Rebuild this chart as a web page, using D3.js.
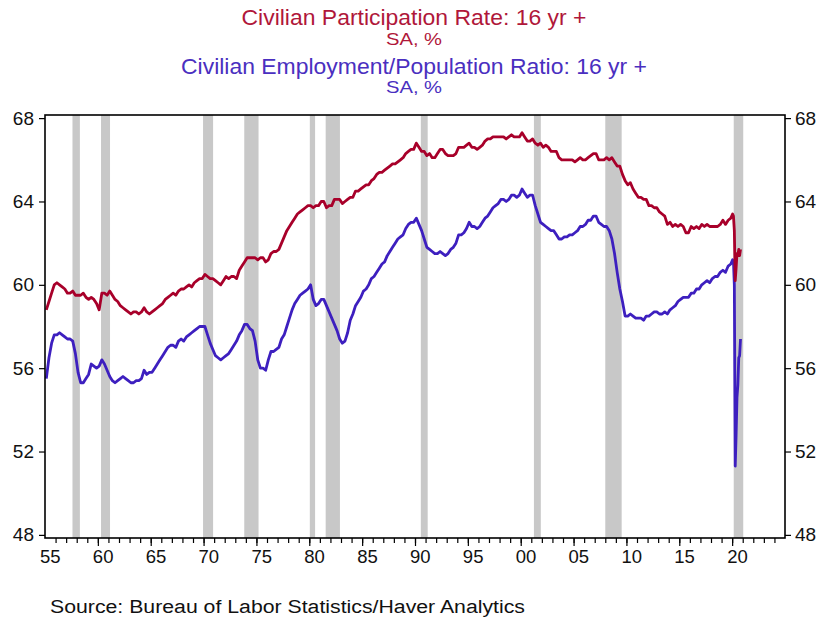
<!DOCTYPE html>
<html>
<head>
<meta charset="utf-8">
<script src="https://cdn.jsdelivr.net/npm/d3@7"></script>
<style>
  body { margin: 0; background: #fff; }
  svg text { font-family: Arial, "Liberation Sans", sans-serif; }
</style>
</head>
<body>
<svg id="chart" width="825" height="622"></svg>
<script>
// 數據：季度值 1955Q1–2019Q4，外加 2020 年月度值
const partQ = [
  58.8, 59.2, 59.6, 60.0,  60.1, 60.0, 59.9, 59.8,  59.6, 59.6, 59.7, 59.5,  59.5, 59.5, 59.6, 59.4,
  59.3, 59.4, 59.3, 59.1,  58.8, 59.6, 59.6, 59.5,  59.7, 59.5, 59.3, 59.2,  59.0, 58.9, 58.8, 58.7,
  58.6, 58.7, 58.7, 58.6,  58.7, 58.9, 58.7, 58.6,  58.7, 58.8, 58.9, 59.0,  59.1, 59.3, 59.4, 59.5,
  59.6, 59.5, 59.7, 59.8,  59.8, 59.9, 60.0, 59.9,  60.1, 60.2, 60.3, 60.3,  60.5, 60.4, 60.3, 60.3,
  60.2, 60.1, 60.0, 60.2,  60.4, 60.3, 60.4, 60.4,  60.3, 60.7, 60.9, 61.1,  61.3, 61.3, 61.3, 61.3,
  61.2, 61.3, 61.3, 61.1,  61.2, 61.5, 61.6, 61.6,  61.7, 62.0, 62.3, 62.6,  62.8, 63.0, 63.2, 63.4,
  63.5, 63.6, 63.7, 63.8,  63.8, 63.7, 63.8, 63.8,  64.0, 64.0, 63.7, 63.8,  63.8, 64.1, 64.1, 64.1,
  63.9, 64.0, 64.1, 64.2,  64.2, 64.5, 64.5, 64.6,  64.7, 64.8, 64.8, 65.0,  65.1, 65.3, 65.4, 65.4,
  65.5, 65.6, 65.7, 65.8,  65.8, 65.9, 66.0, 66.1,  66.3, 66.4, 66.5, 66.5,  66.8, 66.6, 66.4, 66.4,
  66.2, 66.3, 66.1, 66.1,  66.3, 66.5, 66.5, 66.3,  66.2, 66.2, 66.2, 66.3,  66.6, 66.6, 66.6, 66.7,
  66.8, 66.6, 66.6, 66.5,  66.6, 66.7, 66.9, 67.0,  67.0, 67.1, 67.1, 67.1,  67.1, 67.1, 67.0, 67.1,
  67.2, 67.1, 67.1, 67.1,  67.3, 67.1, 66.9, 66.9,  67.0, 66.8, 66.7, 66.8,  66.6, 66.7, 66.6, 66.4,
  66.4, 66.4, 66.1, 66.0,  66.0, 66.0, 66.0, 66.0,  65.9, 66.0, 66.1, 66.0,  66.0, 66.1, 66.2, 66.3,
  66.3, 66.0, 66.0, 66.0,  66.1, 66.0, 66.1, 65.9,  65.7, 65.7, 65.3, 65.0,  64.8, 64.9, 64.6, 64.4,
  64.2, 64.2, 64.1, 64.1,  63.8, 63.8, 63.7, 63.7,  63.5, 63.4, 63.3, 62.9,  63.0, 62.8, 62.9, 62.8,
  62.9, 62.8, 62.5, 62.5,  62.8, 62.7, 62.8, 62.7,  62.9, 62.8, 62.9, 62.8,  62.8, 62.8, 62.8, 62.9,
  63.1, 62.9, 63.1, 63.2
];
const empQ = [
  55.5, 56.5, 57.2, 57.6,  57.6, 57.7, 57.6, 57.5,  57.4, 57.4, 57.3, 56.7,  55.8, 55.3, 55.3, 55.5,
  55.7, 56.2, 56.1, 56.0,  56.1, 56.4, 56.2, 55.9,  55.6, 55.4, 55.3, 55.4,  55.5, 55.6, 55.5, 55.4,
  55.3, 55.3, 55.4, 55.4,  55.5, 55.9, 55.7, 55.8,  55.8, 56.0, 56.2, 56.4,  56.6, 56.8, 57.0, 57.1,
  57.1, 57.0, 57.3, 57.4,  57.3, 57.5, 57.6, 57.7,  57.8, 57.9, 58.0, 58.0,  58.0, 57.6, 57.2, 56.9,
  56.6, 56.5, 56.4, 56.5,  56.6, 56.7, 56.9, 57.1,  57.3, 57.6, 57.8, 58.1,  58.1, 57.9, 57.8, 57.3,
  56.4, 56.0, 56.0, 55.9,  56.4, 56.8, 56.8, 56.9,  57.0, 57.4, 57.6, 58.0,  58.4, 58.8, 59.1, 59.3,
  59.5, 59.6, 59.7, 59.8,  60.0, 59.3, 59.0, 59.1,  59.3, 59.3, 59.0, 58.7,  58.4, 58.1, 57.8, 57.4,
  57.2, 57.3, 57.7, 58.3,  58.6, 59.0, 59.2, 59.4,  59.7, 59.8, 60.0, 60.3,  60.4, 60.6, 60.8, 61.0,
  61.1, 61.4, 61.6, 61.8,  62.0, 62.2, 62.3, 62.4,  62.7, 62.9, 63.0, 63.0,  63.2, 62.9, 62.6, 62.2,
  61.8, 61.7, 61.6, 61.5,  61.5, 61.6, 61.5, 61.4,  61.5, 61.7, 61.8, 62.0,  62.4, 62.4, 62.5, 62.7,
  63.0, 62.8, 62.8, 62.7,  62.8, 63.0, 63.2, 63.3,  63.5, 63.7, 63.8, 63.9,  64.1, 64.1, 64.0, 64.1,
  64.3, 64.3, 64.2, 64.3,  64.6, 64.4, 64.2, 64.3,  64.3, 63.8, 63.4, 63.0,  62.9, 62.8, 62.7, 62.6,
  62.6, 62.4, 62.2, 62.2,  62.3, 62.3, 62.4, 62.4,  62.5, 62.6, 62.8, 62.8,  62.9, 63.1, 63.1, 63.3,
  63.3, 63.0, 62.9, 62.8,  62.8, 62.6, 62.2, 61.5,  60.6, 59.8, 59.2, 58.5,  58.5, 58.6, 58.5, 58.4,
  58.4, 58.4, 58.3, 58.5,  58.5, 58.6, 58.7, 58.7,  58.6, 58.6, 58.7, 58.6,  58.8, 58.9, 59.0, 59.2,
  59.3, 59.4, 59.4, 59.4,  59.6, 59.6, 59.8, 59.8,  60.0, 60.1, 60.2, 60.1,  60.3, 60.4, 60.4, 60.6,
  60.7, 60.6, 60.9, 61.0
];
const part2020 = [63.4, 63.3, 62.6, 60.2, 60.8, 61.5, 61.4, 61.7, 61.4, 61.7];
const emp2020 = [61.2, 61.1, 60.0, 51.3, 52.8, 54.6, 55.2, 56.5, 56.6, 57.4];

// 衰退期（年份小數）
const recessions = [
  [1957.6, 1958.3], [1960.3, 1961.15], [1969.95, 1970.9], [1973.85, 1975.2],
  [1980.05, 1980.55], [1981.55, 1982.9], [1990.55, 1991.2], [2001.25, 2001.9],
  [2008.0, 2009.55], [2020.15, 2021.05]
];

const yTicks = [48, 52, 56, 60, 64, 68];
const xLabelYears = d3.range(1955, 2021, 5);

// 標題：文字、基線、字號、目標寬度
const titles = [
  { text: 'Civilian Participation Rate: 16 yr +', y: 25, size: 21.5, width: 345, color: '#b0173a' },
  { text: 'SA, %', y: 45, size: 17, width: 56, color: '#b0173a' },
  { text: 'Civilian Employment/Population Ratio: 16 yr +', y: 74, size: 21.5, width: 466, color: '#4a2fc0' },
  { text: 'SA, %', y: 93, size: 17, width: 56, color: '#4a2fc0' }
];

const RED = '#a8002a';
const BLUE = '#3d1fbf';

function toSeries(q, m) {
  const pts = q.map((v, i) => ({ t: 1955 + i / 4 + 0.125, v }));
  m.forEach((v, i) => pts.push({ t: 2020 + (i + 0.5) / 12, v }));
  return pts;
}

const svg = d3.select('#chart');
// 繪圖區邊界
const plot = { left: 45, right: 785, top: 115, bottom: 538 };

const x = d3.scaleLinear().domain([1955, 2025]).range([plot.left, plot.right]);
const y = d3.scaleLinear().domain([47.85, 68.15]).range([plot.bottom, plot.top]);

// 標題
svg.selectAll('.title')
  .data(titles)
  .enter().append('text')
  .attr('class', 'title')
  .attr('x', 414)
  .attr('y', d => d.y)
  .attr('text-anchor', 'middle')
  .attr('font-size', d => d.size + 'px')
  .attr('textLength', d => d.width)
  .attr('lengthAdjust', 'spacingAndGlyphs')
  .attr('fill', d => d.color)
  .text(d => d.text);

// 衰退陰影
svg.append('g')
  .selectAll('rect')
  .data(recessions)
  .enter().append('rect')
  .attr('x', d => x(d[0]))
  .attr('width', d => x(d[1]) - x(d[0]))
  .attr('y', plot.top)
  .attr('height', plot.bottom - plot.top)
  .attr('fill', '#c8c8c8');

// 線
const line = d3.line()
  .x(d => x(d.t))
  .y(d => y(d.v));

svg.append('path')
  .datum(toSeries(empQ, emp2020))
  .attr('d', line)
  .attr('fill', 'none')
  .attr('stroke', BLUE)
  .attr('stroke-width', 2.8)
  .attr('stroke-linejoin', 'round');

svg.append('path')
  .datum(toSeries(partQ, part2020))
  .attr('d', line)
  .attr('fill', 'none')
  .attr('stroke', RED)
  .attr('stroke-width', 2.8)
  .attr('stroke-linejoin', 'round');

// 框線
svg.append('rect')
  .attr('x', plot.left)
  .attr('y', plot.top)
  .attr('width', plot.right - plot.left)
  .attr('height', plot.bottom - plot.top)
  .attr('fill', 'none')
  .attr('stroke', '#000')
  .attr('stroke-width', 1.6);

// Y 軸（左右）
const yLeft = svg.append('g')
  .attr('transform', `translate(${plot.left},0)`)
  .call(d3.axisLeft(y).tickValues(yTicks).tickSize(6).tickPadding(5));
const yRight = svg.append('g')
  .attr('transform', `translate(${plot.right},0)`)
  .call(d3.axisRight(y).tickValues(yTicks).tickSize(6).tickPadding(4));
[yLeft, yRight].forEach(g => {
  g.select('.domain').remove();
  g.selectAll('text').attr('font-size', '19px').attr('fill', '#111')
    .style('font-family', 'Arial, "Liberation Sans", sans-serif');
  g.selectAll('line').attr('stroke', '#000').attr('stroke-width', 1.2);
});

// X 軸：小刻度每年，大刻度每五年
const xMinor = svg.append('g')
  .attr('transform', `translate(0,${plot.bottom})`)
  .call(d3.axisBottom(x).tickValues(d3.range(1956, 2025)).tickSize(5).tickFormat(''));
const xMajor = svg.append('g')
  .attr('transform', `translate(0,${plot.bottom})`)
  .call(d3.axisBottom(x).tickValues(d3.range(1960, 2025, 5)).tickSize(8).tickFormat(''));
[xMinor, xMajor].forEach(g => {
  g.select('.domain').remove();
  g.selectAll('line').attr('stroke', '#000').attr('stroke-width', 1.2);
});

svg.append('g')
  .selectAll('text')
  .data(xLabelYears)
  .enter().append('text')
  .attr('x', d => x(d + 0.5))
  .attr('y', 563)
  .attr('text-anchor', 'middle')
  .attr('font-size', '18.5px')
  .attr('fill', '#111')
  .text(d => String(d % 100).padStart(2, '0'));

// 資料來源
svg.append('text')
  .attr('x', 50)
  .attr('y', 613)
  .attr('font-size', '18px')
  .attr('textLength', 475)
  .attr('lengthAdjust', 'spacingAndGlyphs')
  .attr('fill', '#111')
  .text('Source:  Bureau of Labor Statistics/Haver Analytics');
</script>
</body>
</html>
